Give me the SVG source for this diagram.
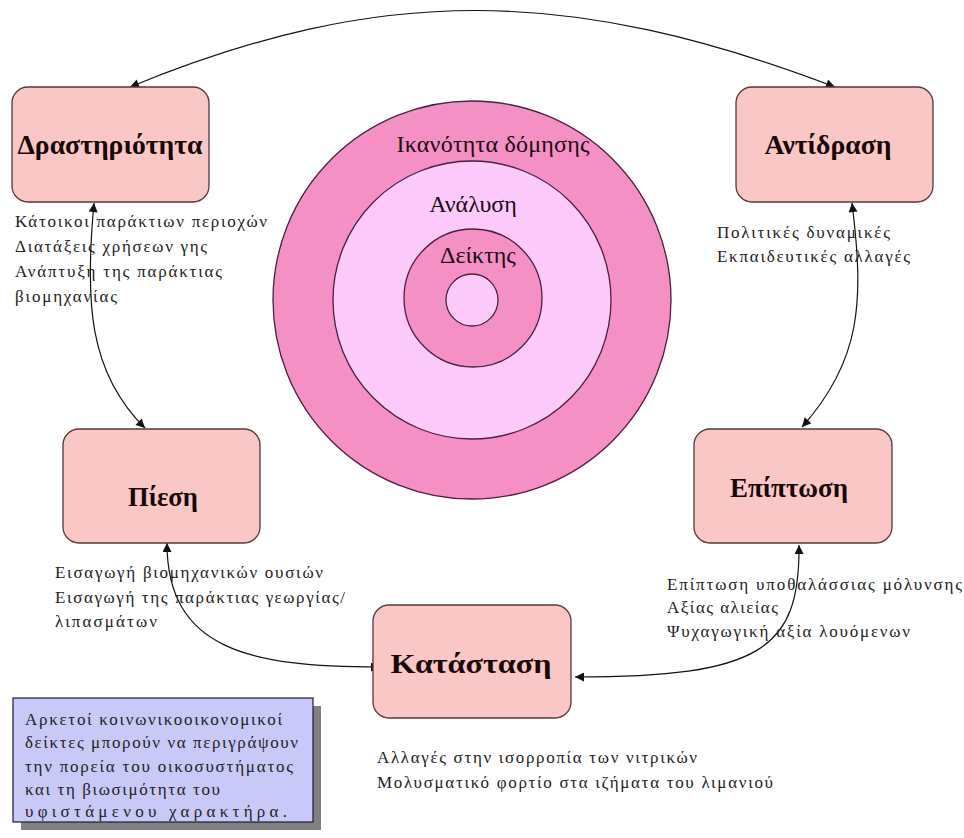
<svg xmlns="http://www.w3.org/2000/svg" width="964" height="838" viewBox="0 0 964 838">
<style>
.box{fill:#F9C8C6;stroke:#5a3838;stroke-width:1.3}
.lbl{font-weight:bold;font-size:27px;fill:#1a0808;text-anchor:middle}
.note{font-size:17px;fill:#222}
.ring{font-size:24px;fill:#1a0a14;text-anchor:middle}
.dark{fill:#F590C4;stroke:#4a2040;stroke-width:1.3}
.light{fill:#FCCAFA;stroke:#4a2040;stroke-width:1.3}
.con{fill:none;stroke:#111;stroke-width:1.2;marker-start:url(#ah);marker-end:url(#ah)}
</style>
<defs>
<marker id="ah" viewBox="0 0 10 10" refX="10" refY="5" markerWidth="10" markerHeight="9" markerUnits="userSpaceOnUse" orient="auto-start-reverse">
<path d="M0,0 L10,5 L0,10 z" fill="#111"/>
</marker>
</defs>
<rect width="964" height="838" fill="#fff"/>
<g id="target">
<circle class="dark" cx="472" cy="300" r="199"/>
<circle class="light" cx="472" cy="300" r="139"/>
<circle class="dark" cx="473" cy="298" r="69"/>
<circle class="light" cx="472" cy="300" r="26"/>
<text class="ring" font-family="Liberation Serif" x="493" y="152" textLength="193" lengthAdjust="spacing">Ικανότητα δόμησης</text>
<text class="ring" font-family="Liberation Serif" x="473" y="212">Ανάλυση</text>
<text class="ring" font-family="Liberation Serif" x="478" y="263">Δείκτης</text>
</g>
<g id="connectors">
<path class="con" d="M130,87 C380,-16 570,-14 835,87"/>
<path class="con" d="M94,203 C85,300 88,372 145,428"/>
<path class="con" d="M852,203 C864,300 862,360 802,427"/>
<path class="con" d="M167,543 C167,650 250,667 380,667"/>
<path class="con" d="M799,545 C800,650 760,677 575,677"/>
</g>
<g id="drastiriotita">
<rect class="box" x="12" y="87" width="197" height="115" rx="16"/>
<text class="lbl" font-family="Liberation Serif" x="110" y="154" textLength="185" lengthAdjust="spacingAndGlyphs">Δραστηριότητα</text>
<text class="note" font-family="Liberation Serif" x="15" y="227" textLength="252">Κάτοικοι παράκτιων περιοχών</text>
<text class="note" font-family="Liberation Serif" x="15" y="252" textLength="192">Διατάξεις χρήσεων γης</text>
<text class="note" font-family="Liberation Serif" x="15" y="277" textLength="207">Ανάπτυξη της παράκτιας</text>
<text class="note" font-family="Liberation Serif" x="15" y="302" textLength="102">βιομηχανίας</text>
</g>
<g id="antidrasi">
<rect class="box" x="736" y="87" width="197" height="115" rx="16"/>
<text class="lbl" font-family="Liberation Serif" x="828" y="154" textLength="127" lengthAdjust="spacingAndGlyphs">Αντίδραση</text>
<text class="note" font-family="Liberation Serif" x="717" y="238" textLength="173">Πολιτικές δυναμικές</text>
<text class="note" font-family="Liberation Serif" x="717" y="262" textLength="193">Εκπαιδευτικές αλλαγές</text>
</g>
<g id="piesi">
<rect class="box" x="63" y="429" width="197" height="114" rx="16"/>
<text class="lbl" font-family="Liberation Serif" x="163" y="506" textLength="70" lengthAdjust="spacingAndGlyphs">Πίεση</text>
<text class="note" font-family="Liberation Serif" x="55" y="578" textLength="268">Εισαγωγή βιομηχανικών ουσιών</text>
<text class="note" font-family="Liberation Serif" x="55" y="603" textLength="290">Εισαγωγή της παράκτιας γεωργίας/</text>
<text class="note" font-family="Liberation Serif" x="55" y="627" textLength="102">λιπασμάτων</text>
</g>
<g id="epiptosi">
<rect class="box" x="694" y="429" width="198" height="114" rx="16"/>
<text class="lbl" font-family="Liberation Serif" x="789" y="497" textLength="118" lengthAdjust="spacingAndGlyphs">Επίπτωση</text>
<text class="note" font-family="Liberation Serif" x="667" y="590" textLength="295">Επίπτωση υποθαλάσσιας μόλυνσης</text>
<text class="note" font-family="Liberation Serif" x="667" y="613" textLength="111">Αξίας αλιείας</text>
<text class="note" font-family="Liberation Serif" x="667" y="637" textLength="243">Ψυχαγωγική αξία λουόμενων</text>
</g>
<g id="katastasi">
<rect class="box" x="373" y="605" width="198" height="113" rx="16"/>
<text class="lbl" font-family="Liberation Serif" x="471" y="673" textLength="161" lengthAdjust="spacingAndGlyphs">Κατάσταση</text>
<text class="note" font-family="Liberation Serif" x="377" y="763" textLength="320">Αλλαγές στην ισορροπία των νιτρικών</text>
<text class="note" font-family="Liberation Serif" x="377" y="788" textLength="396">Μολυσματικό φορτίο στα ιζήματα του λιμανιού</text>
</g>
<g id="note">
<rect x="21" y="706" width="300" height="124" fill="#808080"/>
<rect x="13" y="698" width="300" height="124" fill="#C9C9F7" stroke="#1a1a40" stroke-width="1.2"/>
<text class="note" font-family="Liberation Serif" x="25" y="725" textLength="257">Αρκετοί κοινωνικοοικονομικοί</text>
<text class="note" font-family="Liberation Serif" x="25" y="748" textLength="273">δείκτες μπορούν να περιγράψουν</text>
<text class="note" font-family="Liberation Serif" x="25" y="772" textLength="268">την πορεία του οικοσυστήματος</text>
<text class="note" font-family="Liberation Serif" x="25" y="795" textLength="195">και τη βιωσιμότητα του</text>
<text class="note" font-family="Liberation Serif" x="25" y="817" textLength="262">υφιστάμενου χαρακτήρα.</text>
</g>
</svg>
